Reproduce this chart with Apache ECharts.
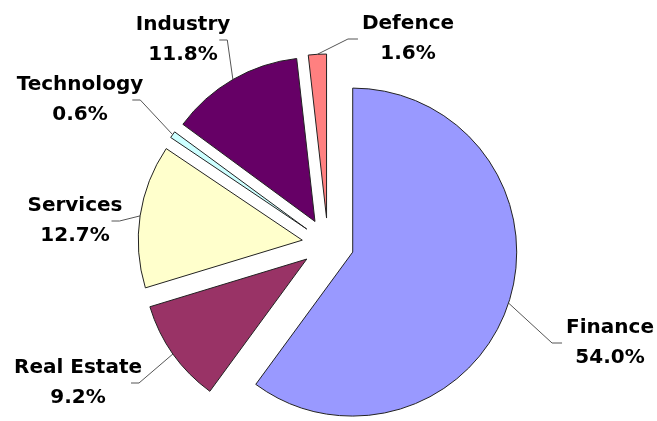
<!DOCTYPE html>
<html>
<head>
<meta charset="utf-8">
<script src="https://cdn.jsdelivr.net/npm/echarts@6/dist/echarts.min.js"></script>
<style>
  html, body { margin: 0; padding: 0; background: #fff; }
  #chart { width: 657px; height: 421px; }
</style>
</head>
<body>
<div id="chart"></div>
<script>
const sectors = ['Finance', 'Real Estate', 'Services', 'Technology', 'Industry', 'Defence']
const shares = [54.0, 9.2, 12.7, 0.6, 11.8, 1.6]
const sectorColors = ['#9999FF', '#993366', '#FFFFCC', '#CCFFFF', '#660066', '#FF8080']
// centre of each two-line label block
const labelSpots = [[610, 343], [78, 383], [75, 221], [80, 100], [183, 40], [408, 39]]

const chart = echarts.init(document.getElementById('chart'))

const cx = 328
const cy = 244
const explode = 26
const total = shares.reduce((a, b) => a + b, 0)

// leader line: from the slice edge, slanting to a short flat tail next to the label
function leader(p) {
  const spot = labelSpots[p.dataIndex]
  const start = p.labelLinePoints[0]
  const half = p.labelRect.width / 2
  if (spot[0] < start[0]) {
    const endX = spot[0] + half - 11
    return [start, [endX + 8, spot[1]], [endX, spot[1]]]
  }
  const endX = spot[0] - half - 4
  return [start, [endX - 10, spot[1]], [endX, spot[1]]]
}

function placeLabel(p) {
  const spot = labelSpots[p.dataIndex]
  const out = { x: spot[0], y: spot[1], align: 'center', verticalAlign: 'middle' }
  if (p.labelLinePoints && p.labelLinePoints.length) {
    out.labelLinePoints = leader(p)
  }
  return out
}

// one pie per slice so each slice can be pulled out on its own
// (selected slices in v6 keep their labels pinned to the default spot)
let before = 0
const series = sectors.map((name, k) => {
  const mid = (before + shares[k] / 2) / total * Math.PI * 2
  before += shares[k]
  return {
    type: 'pie',
    center: [cx + Math.sin(mid) * explode, cy - Math.cos(mid) * explode],
    radius: 164,
    startAngle: 90,
    clockwise: true,
    silent: true,
    avoidLabelOverlap: false,
    itemStyle: { borderColor: '#222', borderWidth: 1 },
    label: {
      show: true,
      formatter: p => p.name + '\n' + p.value.toFixed(1) + '%',
      fontFamily: 'DejaVu Sans',
      fontWeight: 'bold',
      fontSize: 20,
      lineHeight: 30,
      color: '#000'
    },
    labelLine: { show: true, lineStyle: { color: '#555', width: 1 } },
    labelLayout: placeLabel,
    data: sectors.map((n, i) => i === k
      ? { name: n, value: shares[i], itemStyle: { color: sectorColors[i] } }
      : {
          name: n,
          value: shares[i],
          itemStyle: { color: 'rgba(0,0,0,0)', borderWidth: 0 },
          label: { show: false },
          labelLine: { show: false }
        })
  }
})

chart.setOption({ animation: false, series: series })
</script>
</body>
</html>
